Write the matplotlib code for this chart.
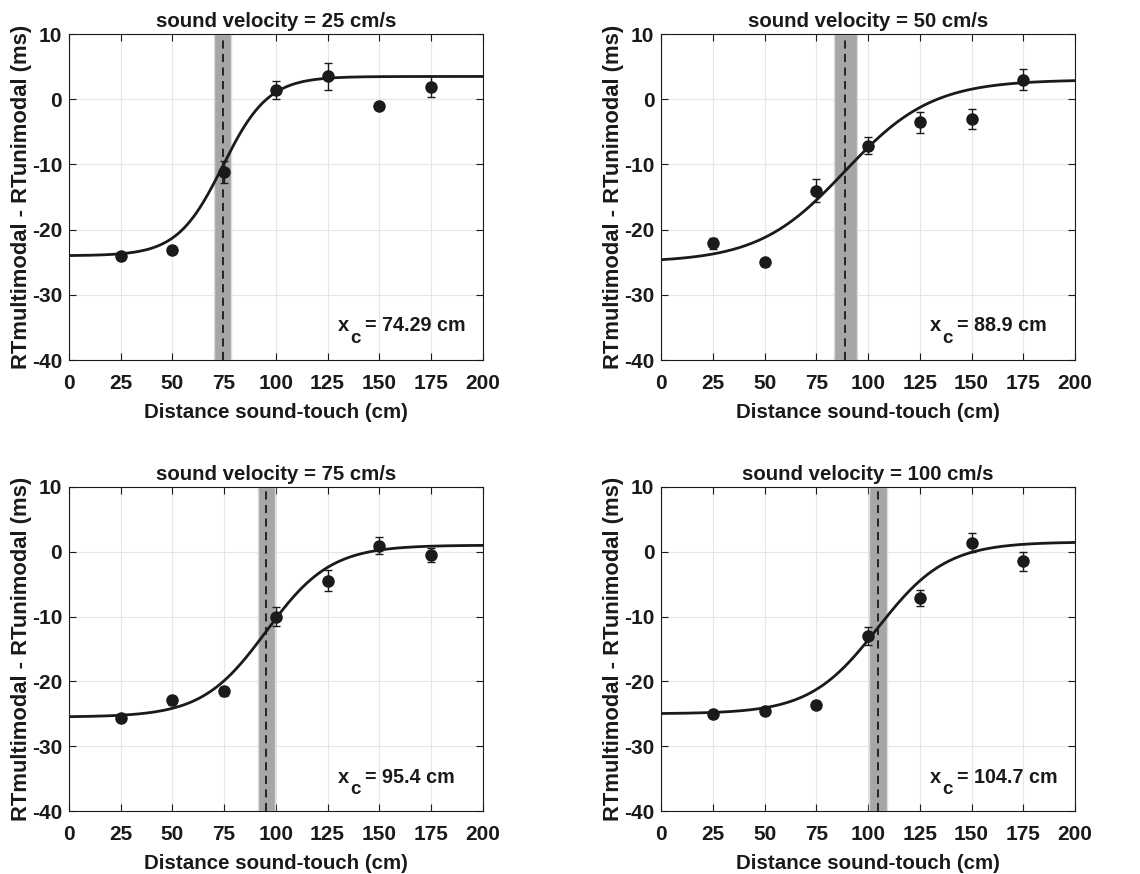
import numpy as np
import matplotlib
matplotlib.use("Agg")
import matplotlib.pyplot as plt

plt.rcParams['font.family'] = ['Liberation Sans', 'DejaVu Sans']
plt.rcParams['font.weight'] = 'bold'
plt.rcParams['axes.unicode_minus'] = False

# data
distance = [25, 50, 75, 100, 125, 150, 175]
velocities = [25, 50, 75, 100]

rt_diff = [
    [-24.1, -23.1, -11.1, 1.4, 3.5, -1.1, 1.9],
    [-22.1, -25.0, -14.0, -7.1, -3.5, -3.0, 3.0],
    [-25.6, -22.9, -21.5, -10.0, -4.5, 0.9, -0.5],
    [-25.1, -24.6, -23.6, -13.0, -7.1, 1.4, -1.5],
]
rt_err = [
    [0.6, 0.4, 1.7, 1.35, 2.0, 0.3, 1.6],
    [0.8, 0.5, 1.8, 1.25, 1.6, 1.5, 1.6],
    [0.5, 0.7, 0.7, 1.5, 1.6, 1.3, 1.1],
    [0.6, 0.4, 0.6, 1.35, 1.25, 1.5, 1.45],
]

# sigmoid fit parameters: bottom, top, x_c, slope width
fit_bottom = [-24.0, -25.0, -25.5, -25.0]
fit_top = [3.5, 3.0, 1.0, 1.5]
fit_xc = [74.29, 88.9, 95.4, 104.7]
fit_width = [11.0, 21.0, 15.5, 16.5]
xc_labels = ['74.29', '88.9', '95.4', '104.7']

# confidence band around x_c
band_lo = [70.2, 83.5, 91.5, 100.6]
band_hi = [78.1, 94.4, 99.5, 109.0]

fig = plt.figure(figsize=(11.4, 8.74), dpi=100)
positions = [
    [0.0605, 0.588, 0.363, 0.373],
    [0.580, 0.588, 0.363, 0.373],
    [0.0605, 0.072, 0.363, 0.371],
    [0.580, 0.072, 0.363, 0.371],
]

xfit = np.linspace(0, 200, 400)
ink = '#1a1a1a'

for i in range(4):
    ax = fig.add_axes(positions[i])
    ax.axvspan(band_lo[i], band_hi[i], facecolor='#a6a6a9', edgecolor='#dcdcdc', lw=1, zorder=1)
    ax.axvline(fit_xc[i], color=ink, lw=1.3, dashes=(4.5, 3), zorder=2)
    yfit = fit_bottom[i] + (fit_top[i] - fit_bottom[i]) / (1 + np.exp(-(xfit - fit_xc[i]) / fit_width[i]))
    ax.plot(xfit, yfit, color=ink, lw=2, zorder=3)
    ax.errorbar(distance, rt_diff[i], yerr=rt_err[i], fmt='o', color=ink,
                ms=8, capsize=3, elinewidth=1, capthick=1, zorder=4)

    # x_c annotation with a dropped subscript
    ax.text(130, -35.6, 'x', fontsize=14.5, fontweight='bold', va='baseline', ha='left', color=ink)
    ax.annotate('c', xy=(130, -35.6), xytext=(8.5, -8.2), textcoords='offset points',
                fontsize=13.5, fontweight='bold', va='baseline', ha='left', color=ink)
    ax.annotate('= ' + xc_labels[i] + ' cm', xy=(130, -35.6), xytext=(19.5, 0),
                textcoords='offset points', fontsize=14.2, fontweight='bold',
                va='baseline', ha='left', color=ink)

    ax.set_xlim(0, 200)
    ax.set_ylim(-40, 10)
    ax.set_xticks(np.arange(0, 201, 25))
    ax.set_yticks(np.arange(-40, 11, 10))
    ax.grid(True, color='#e6e6e6', lw=0.8)
    ax.set_axisbelow(True)
    ax.tick_params(direction='in', top=True, right=True, length=5, width=0.8,
                   labelsize=15, colors=ink)
    ax.tick_params(axis='x', pad=10)
    ax.tick_params(axis='y', pad=5)
    for s in ax.spines.values():
        s.set_linewidth(0.8)
        s.set_color(ink)
    ax.set_title('sound velocity = %d cm/s' % velocities[i], fontsize=14.7, fontweight='bold',
                 color=ink, pad=5)
    ax.set_xlabel('Distance sound-touch (cm)', fontsize=14.8, fontweight='bold', color=ink,
                  labelpad=7)
    ax.set_ylabel('RTmultimodal - RTunimodal (ms)', fontsize=15.8, fontweight='bold', color=ink)
    ax.yaxis.set_label_coords(-0.09, 0.5)

fig.savefig('out.png', dpi=100)
